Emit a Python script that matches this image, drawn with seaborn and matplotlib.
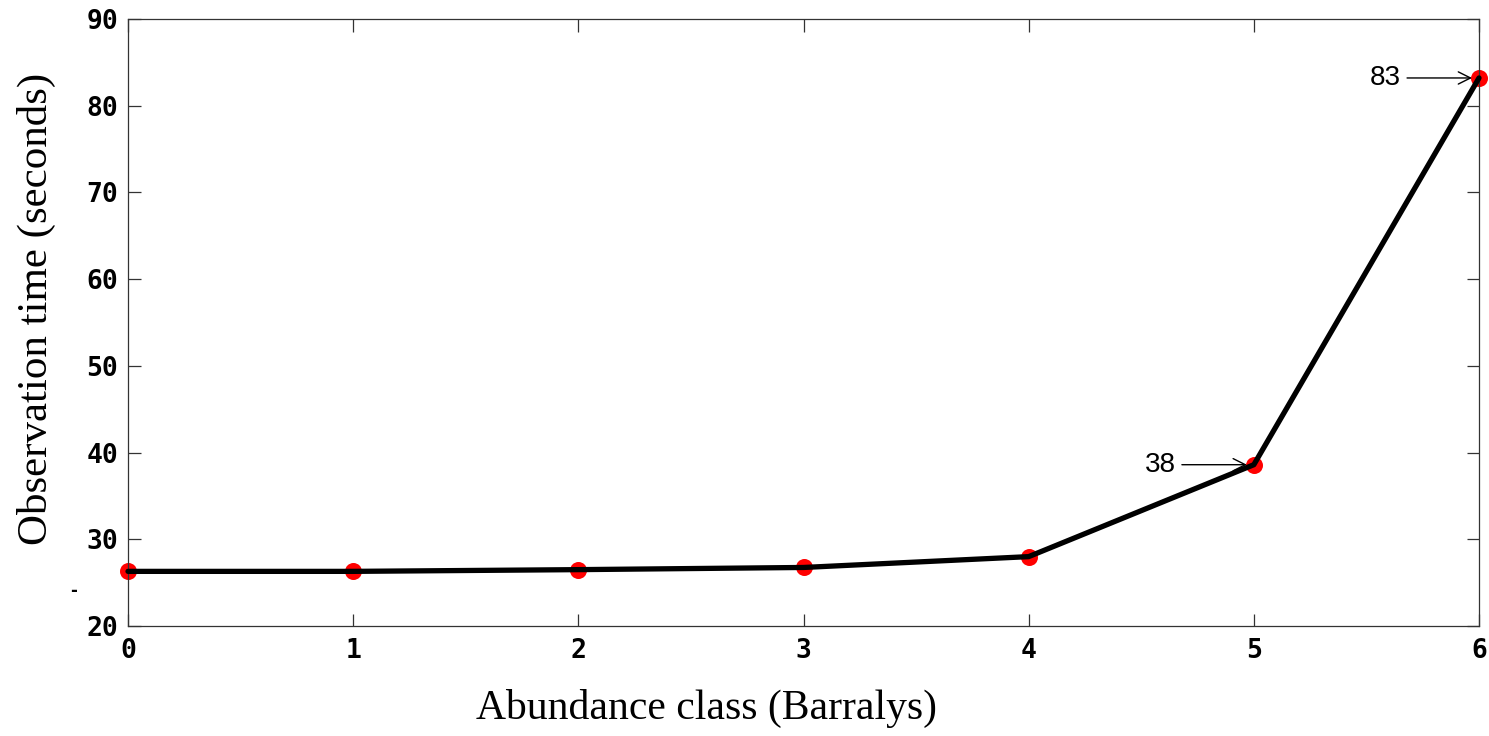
import numpy as np
import pandas as pd
import matplotlib
matplotlib.use("Agg")
import matplotlib.pyplot as plt
import seaborn as sns

# data
abundance_class = [0, 1, 2, 3, 4, 5, 6]
obs_time = [26.3, 26.3, 26.5, 26.75, 28.0, 38.6, 83.2]
x_ticks = [0, 1, 2, 3, 4, 5, 6]
y_ticks = [20, 30, 40, 50, 60, 70, 80, 90]
callouts = [(5, 38.6, "38"), (6, 83.2, "83")]

df = pd.DataFrame({"cls": abundance_class, "t": obs_time})

sns.set_style("ticks")
plt.rcParams["font.family"] = ["DejaVu Sans"]
plt.rcParams["text.color"] = "black"
plt.rcParams["axes.labelcolor"] = "black"
plt.rcParams["xtick.labelcolor"] = "black"
plt.rcParams["ytick.labelcolor"] = "black"

fig = plt.figure(figsize=(14.89, 7.36), dpi=100)
ax = fig.add_axes([128 / 1489, 1 - 626 / 736, 1351 / 1489, 607 / 736])

# red markers under the thick black line
sns.scatterplot(data=df, x="cls", y="t", ax=ax, color="#ff0000", s=150,
                edgecolor="#ff0000", linewidth=0, zorder=2, clip_on=False)
sns.lineplot(data=df, x="cls", y="t", ax=ax, color="black", linewidth=3.8,
             zorder=3, clip_on=False)

ax.set_xlim(0, 6)
ax.set_ylim(20, 90)
ax.set_xticks(x_ticks)
ax.set_yticks(y_ticks)
ax.set_xticklabels([str(v) for v in x_ticks], family="DejaVu Sans Mono",
                   fontsize=19, fontweight="bold")
ax.set_yticklabels([str(v) for v in y_ticks], family="DejaVu Sans Mono",
                   fontsize=19, fontweight="bold")
ax.tick_params(direction="in", length=9, width=0.9, color="#333333",
               top=True, right=True)
ax.tick_params(axis="x", pad=9)
ax.tick_params(axis="y", pad=7)

for side in ["left", "right", "top", "bottom"]:
    ax.spines[side].set_visible(True)
    ax.spines[side].set_linewidth(0.9)
    ax.spines[side].set_color("#333333")

ax.set_xlabel("Abundance class (Barralys)", family="Liberation Serif", fontsize=30)
ax.set_ylabel("Observation time (seconds)", family="Liberation Serif", fontsize=31)
ax.xaxis.set_label_coords(0.428, -0.103)
ax.yaxis.set_label_coords(-0.0535, 0.522)

for x, y, lab in callouts:
    ax.annotate(lab, xy=(x, y), xytext=(-78, 0), textcoords="offset pixels",
                ha="right", va="center", family="Liberation Sans", fontsize=20,
                color="black",
                arrowprops=dict(arrowstyle="->", color="black", lw=1.0,
                                mutation_scale=22, shrinkA=2, shrinkB=5))

# stray mark left of the axis
fig.text(74 / 1489, 1 - 591 / 736, "-", fontsize=12, ha="center", va="center",
         fontweight="bold")

plt.savefig("out.png", dpi=100)
plt.close()
